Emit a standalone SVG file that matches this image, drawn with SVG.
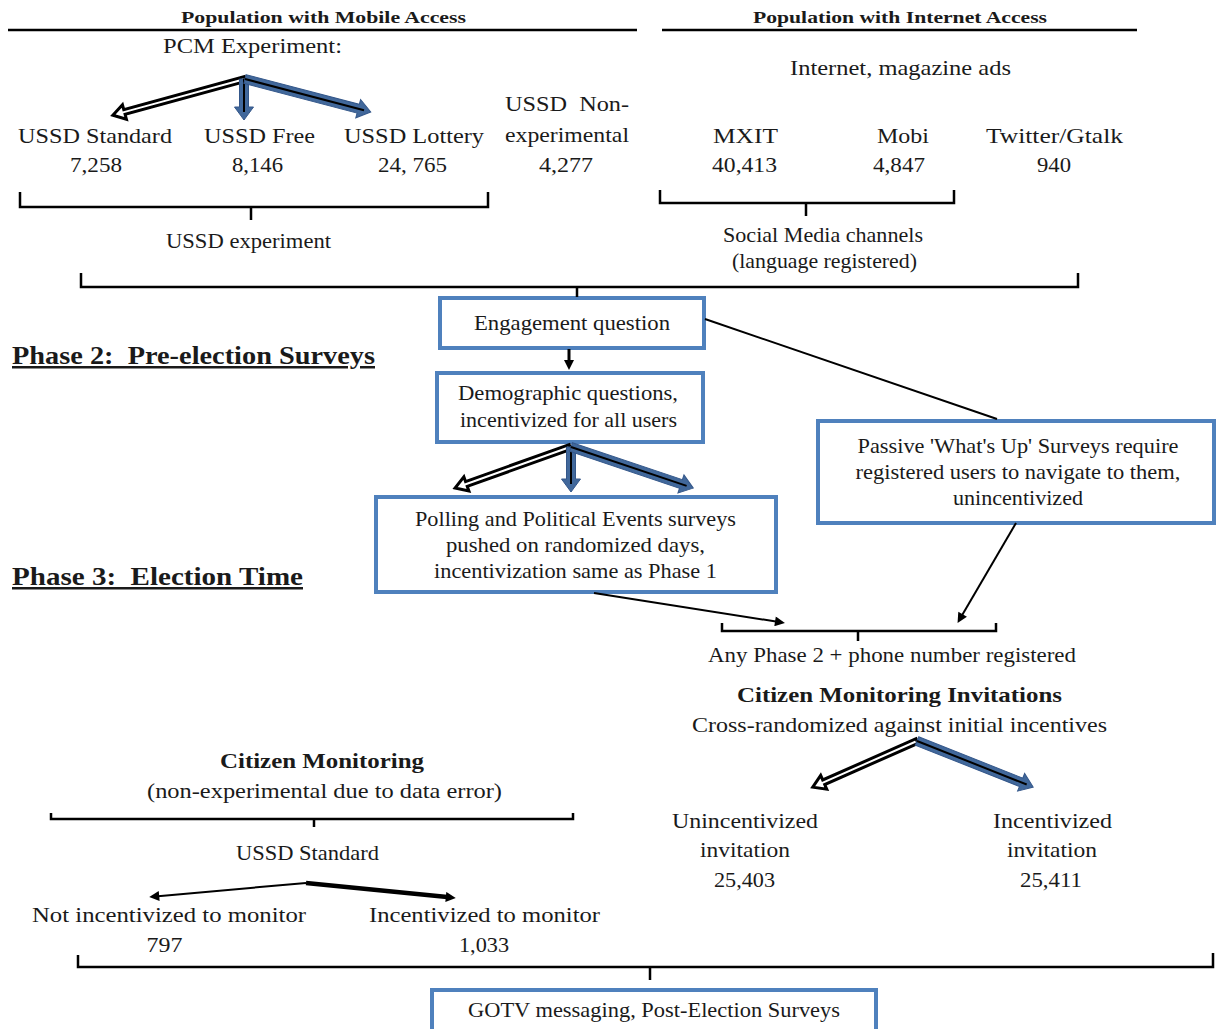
<svg xmlns="http://www.w3.org/2000/svg" width="1217" height="1029" viewBox="0 0 1217 1029">
<style>
text{font-family:"Liberation Serif","Times New Roman",serif;fill:#1a1a1a;font-size:21px}
.m{text-anchor:middle}
.hb{font-weight:bold;font-size:17px}
.tb{font-weight:bold;font-size:21px}
.ph{font-weight:bold;font-size:25px;text-decoration:underline}
.box{fill:#fff;stroke:#4f81bd;stroke-width:4}
.br{fill:none;stroke:#000;stroke-width:2.5}
.rule{stroke:#000;stroke-width:2.5}
.oa{fill:#fff;stroke:#000;stroke-width:3;stroke-linejoin:miter}
.ba{fill:#41689b;stroke:#34578a;stroke-width:1}
.bl{stroke:#000;stroke-width:2}
.ln{stroke:#000;fill:none}
</style>
<defs>
<marker id="ah" viewBox="0 0 10 10" refX="4" refY="5" markerWidth="12" markerHeight="10" markerUnits="userSpaceOnUse" orient="auto"><path d="M0,0 L10,5 L0,10 z" fill="#000"/></marker>
</defs>
<rect width="1217" height="1029" fill="#fff"/>

<g id="headers">
<text class="hb m" x="323.5" y="23" textLength="285" lengthAdjust="spacingAndGlyphs">Population with Mobile Access</text>
<line class="rule" x1="8" y1="30" x2="637" y2="30"/>
<text class="hb m" x="900" y="23" textLength="294" lengthAdjust="spacingAndGlyphs">Population with Internet Access</text>
<line class="rule" x1="662" y1="30" x2="1137" y2="30"/>
</g>

<g id="pcm"><text class="m" x="252.5" y="53" textLength="179" lengthAdjust="spacingAndGlyphs">PCM Experiment:</text></g>
<g id="internet-ads"><text class="m" x="900.5" y="75" textLength="221" lengthAdjust="spacingAndGlyphs">Internet, magazine ads</text></g>

<g id="ussd-standard"><text class="m" x="95" y="143" textLength="154" lengthAdjust="spacingAndGlyphs">USSD Standard</text><text class="m" x="96" y="172" textLength="52" lengthAdjust="spacingAndGlyphs">7,258</text></g>
<g id="ussd-free"><text class="m" x="259.5" y="143" textLength="111" lengthAdjust="spacingAndGlyphs">USSD Free</text><text class="m" x="257.5" y="172" textLength="51" lengthAdjust="spacingAndGlyphs">8,146</text></g>
<g id="ussd-lottery"><text class="m" x="414" y="143" textLength="140" lengthAdjust="spacingAndGlyphs">USSD Lottery</text><text class="m" x="412.5" y="172" textLength="69" lengthAdjust="spacingAndGlyphs" xml:space="preserve">24, 765</text></g>
<g id="ussd-nonexp"><text class="m" x="567" y="111" textLength="124" lengthAdjust="spacingAndGlyphs" xml:space="preserve">USSD  Non-</text><text class="m" x="567" y="142" textLength="124" lengthAdjust="spacingAndGlyphs">experimental</text><text class="m" x="566" y="172" textLength="54" lengthAdjust="spacingAndGlyphs">4,277</text></g>
<g id="mxit"><text class="m" x="745.5" y="143" textLength="65" lengthAdjust="spacingAndGlyphs">MXIT</text><text class="m" x="744.5" y="172" textLength="65" lengthAdjust="spacingAndGlyphs">40,413</text></g>
<g id="mobi"><text class="m" x="903" y="143" textLength="52" lengthAdjust="spacingAndGlyphs">Mobi</text><text class="m" x="899" y="172" textLength="52" lengthAdjust="spacingAndGlyphs">4,847</text></g>
<g id="twitter"><text class="m" x="1054.5" y="143" textLength="137" lengthAdjust="spacingAndGlyphs">Twitter/Gtalk</text><text class="m" x="1054" y="172" textLength="34" lengthAdjust="spacingAndGlyphs">940</text></g>

<g id="ussd-experiment"><text class="m" x="248.5" y="248" textLength="165" lengthAdjust="spacingAndGlyphs">USSD experiment</text></g>
<g id="social-media"><text class="m" x="823" y="242" textLength="200" lengthAdjust="spacingAndGlyphs">Social Media channels</text><text class="m" x="824.5" y="268" textLength="185" lengthAdjust="spacingAndGlyphs">(language registered)</text></g>

<g id="engagement"><rect class="box" x="440" y="298" width="264" height="50"/><text class="m" x="572" y="330" textLength="196" lengthAdjust="spacingAndGlyphs">Engagement question</text></g>
<g id="demographic"><rect class="box" x="437" y="373" width="266" height="69"/><text class="m" x="568" y="400" textLength="220" lengthAdjust="spacingAndGlyphs">Demographic questions,</text><text class="m" x="568.5" y="427" textLength="217" lengthAdjust="spacingAndGlyphs">incentivized for all users</text></g>

<g id="phase2"><text class="ph" x="12" y="364" textLength="363" lengthAdjust="spacingAndGlyphs" xml:space="preserve">Phase 2:  Pre-election Surveys</text></g>
<g id="phase3"><text class="ph" x="12" y="585" textLength="291" lengthAdjust="spacingAndGlyphs" xml:space="preserve">Phase 3:  Election Time</text></g>

<g id="polling"><rect class="box" x="376" y="497" width="400" height="95"/><text class="m" x="575.5" y="526" textLength="321" lengthAdjust="spacingAndGlyphs">Polling and Political Events surveys</text><text class="m" x="575.5" y="552" textLength="259" lengthAdjust="spacingAndGlyphs">pushed on randomized days,</text><text class="m" x="575.5" y="578" textLength="283" lengthAdjust="spacingAndGlyphs">incentivization same as Phase 1</text></g>
<g id="passive"><rect class="box" x="818" y="421" width="396" height="102"/><text class="m" x="1018" y="453" textLength="321" lengthAdjust="spacingAndGlyphs">Passive 'What's Up' Surveys require</text><text class="m" x="1018" y="479" textLength="325" lengthAdjust="spacingAndGlyphs">registered users to navigate to them,</text><text class="m" x="1018" y="505" textLength="130" lengthAdjust="spacingAndGlyphs">unincentivized</text></g>

<g id="any-phase2"><text class="m" x="892" y="662" textLength="368" lengthAdjust="spacingAndGlyphs">Any Phase 2 + phone number registered</text></g>
<g id="cm-invitations"><text class="tb m" x="899.5" y="702" textLength="325" lengthAdjust="spacingAndGlyphs">Citizen Monitoring Invitations</text><text class="m" x="899.5" y="732" textLength="415" lengthAdjust="spacingAndGlyphs">Cross-randomized against initial incentives</text></g>
<g id="unincentivized-inv"><text class="m" x="745" y="828" textLength="146" lengthAdjust="spacingAndGlyphs">Unincentivized</text><text class="m" x="745" y="857" textLength="90" lengthAdjust="spacingAndGlyphs">invitation</text><text class="m" x="744.5" y="887" textLength="61" lengthAdjust="spacingAndGlyphs">25,403</text></g>
<g id="incentivized-inv"><text class="m" x="1052.5" y="828" textLength="119" lengthAdjust="spacingAndGlyphs">Incentivized</text><text class="m" x="1052" y="857" textLength="90" lengthAdjust="spacingAndGlyphs">invitation</text><text class="m" x="1051" y="887" textLength="62" lengthAdjust="spacingAndGlyphs">25,411</text></g>

<g id="citizen-monitoring"><text class="tb m" x="322" y="768" textLength="204" lengthAdjust="spacingAndGlyphs">Citizen Monitoring</text><text class="m" x="324.5" y="798" textLength="355" lengthAdjust="spacingAndGlyphs">(non-experimental due to data error)</text></g>
<g id="ussd-standard-2"><text class="m" x="307.5" y="860" textLength="143" lengthAdjust="spacingAndGlyphs">USSD Standard</text></g>
<g id="not-incentivized"><text class="m" x="169" y="922" textLength="274" lengthAdjust="spacingAndGlyphs">Not incentivized to monitor</text><text class="m" x="164.5" y="952" textLength="36" lengthAdjust="spacingAndGlyphs">797</text></g>
<g id="incentivized"><text class="m" x="484.5" y="922" textLength="231" lengthAdjust="spacingAndGlyphs">Incentivized to monitor</text><text class="m" x="484" y="952" textLength="50" lengthAdjust="spacingAndGlyphs">1,033</text></g>

<g id="gotv"><rect class="box" x="432" y="990" width="444" height="44"/><text class="m" x="654" y="1017" textLength="372" lengthAdjust="spacingAndGlyphs">GOTV messaging, Post-Election Surveys</text></g>

<g id="connectors">
<path class="br" d="M20,192 V207 H488 V192 M251,207 V220"/>
<path class="br" d="M660,190 V203 H954 V190 M806,203 V216"/>
<path class="br" d="M81,273 V287 H1078 V273 M577,287 V297"/>
<path class="br" d="M722,623 V631 H996 V623 M858,631 V641"/>
<path class="br" d="M51,813 V819 H573 V813 M314,819 V827"/>
<path class="br" d="M78,955 V967 H1213 V953 M650,967 V980"/>

<g transform="translate(245,79) rotate(164.7)"><polygon class="oa" points="0,-2.5 125,-2.5 125,-7.5 137,0 125,7.5 125,2.5 0,2.5"/></g>
<g transform="translate(244,79) rotate(90)"><polygon class="ba" points="0,-4.5 28,-4.5 28,-9.5 41,0 28,9.5 28,4.5 0,4.5"/><line class="bl" x1="0" y1="0" x2="33" y2="0"/></g>
<g transform="translate(245,79) rotate(14.68)"><polygon class="ba" points="0,-4.5 117,-4.5 117,-9.5 130,0 117,9.5 117,4.5 0,4.5"/><line class="bl" x1="0" y1="0" x2="123" y2="0"/></g>

<line class="ln" stroke-width="3" x1="569" y1="349" x2="569" y2="364" marker-end="url(#ah)"/>
<line class="ln" stroke-width="2" x1="705" y1="319" x2="997" y2="419"/>

<g transform="translate(570,447) rotate(160.38)"><polygon class="oa" points="0,-2.5 110,-2.5 110,-7.5 122,0 110,7.5 110,2.5 0,2.5"/></g>
<g transform="translate(571,447) rotate(90)"><polygon class="ba" points="0,-4.5 32,-4.5 32,-9.5 45,0 32,9.5 32,4.5 0,4.5"/><line class="bl" x1="0" y1="0" x2="37" y2="0"/></g>
<g transform="translate(571,447) rotate(18.58)"><polygon class="ba" points="0,-4.5 116,-4.5 116,-9.5 129,0 116,9.5 116,4.5 0,4.5"/><line class="bl" x1="0" y1="0" x2="122" y2="0"/></g>

<line class="ln" stroke-width="2" x1="594" y1="593" x2="779" y2="622" marker-end="url(#ah)"/>
<line class="ln" stroke-width="2" x1="1016" y1="523" x2="960.6" y2="617.8" marker-end="url(#ah)"/>

<g transform="translate(917,741) rotate(156.14)"><polygon class="oa" points="0,-2.5 102,-2.5 102,-7.5 114,0 102,7.5 102,2.5 0,2.5"/></g>
<g transform="translate(917,741) rotate(21.63)"><polygon class="ba" points="0,-4.5 112,-4.5 112,-9.5 125,0 112,9.5 112,4.5 0,4.5"/><line class="bl" x1="0" y1="0" x2="118" y2="0"/></g>

<line class="ln" stroke-width="2" x1="306" y1="883" x2="155.2" y2="896.4" marker-end="url(#ah)"/>
<line class="ln" stroke-width="4.5" x1="306" y1="883" x2="449.8" y2="897.3" marker-end="url(#ah)"/>
</g>
</svg>
